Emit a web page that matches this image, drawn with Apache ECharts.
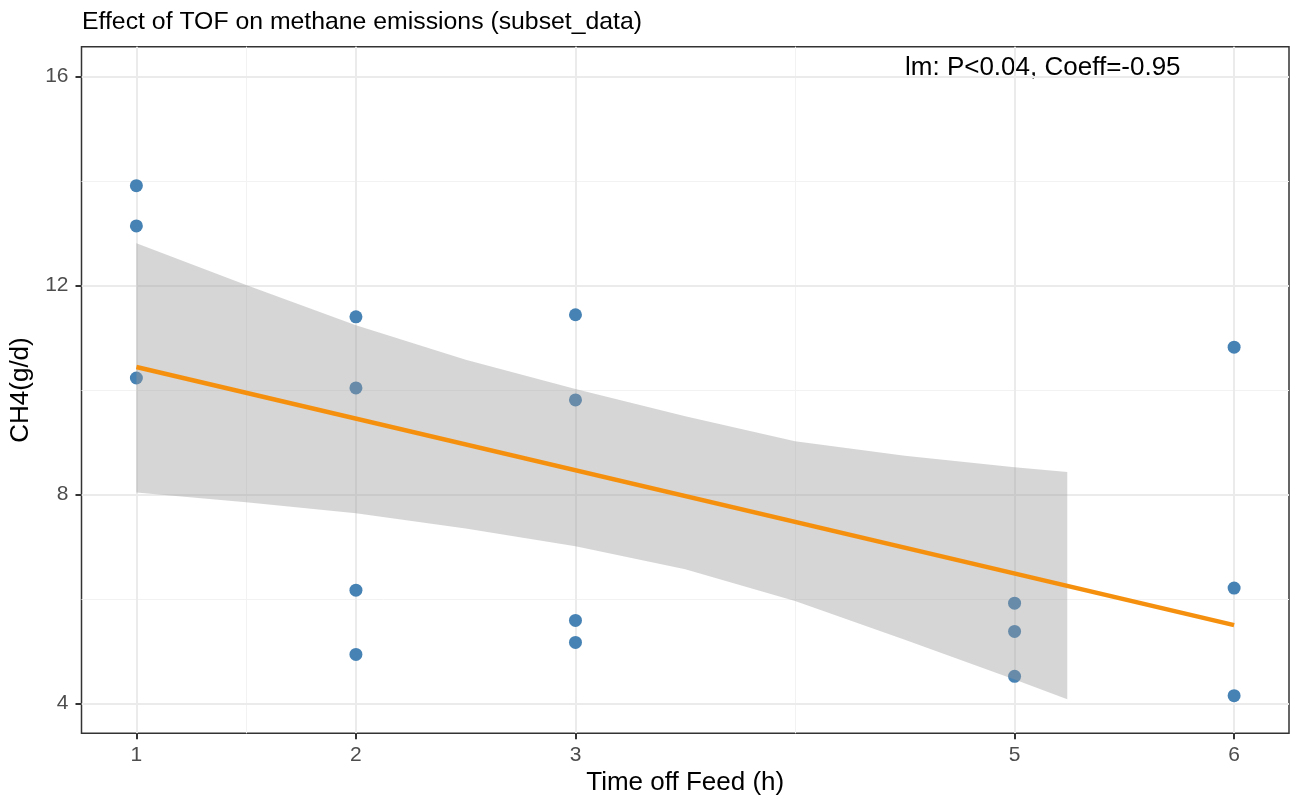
<!DOCTYPE html>
<html>
<head>
<meta charset="utf-8">
<title>Effect of TOF on methane emissions</title>
<script src="https://cdn.jsdelivr.net/npm/echarts@6/dist/echarts.min.js"></script>
<style>
  html, body { margin: 0; padding: 0; background: #fff; }
  #chart { width: 1299px; height: 803px; }
</style>
</head>
<body>
<div id="chart"></div>
<script>
// points (Time off Feed, CH4)
var tof = [1, 1, 1, 2, 2, 2, 2, 3, 3, 3, 3, 5, 5, 5, 6, 6, 6]
var ch4 = [13.91, 13.14, 10.23, 11.40, 10.04, 6.17, 4.94, 11.44, 9.81, 5.59, 5.17, 5.92, 5.38, 4.52, 10.82, 6.21, 4.15]

// fitted line ends
var fitX = [1, 6]
var fitY = [10.44, 5.50]

// grey band
var bandX = [1, 1.5, 2, 2.5, 3, 3.5, 4, 4.5, 5, 5.24]
var bandUpper = [12.81, 12.01, 11.24, 10.58, 10.02, 9.50, 9.02, 8.74, 8.52, 8.43]
var bandLower = [8.04, 7.85, 7.64, 7.35, 7.01, 6.57, 5.96, 5.22, 4.46, 4.08]

// ticks and grid
var xTicks = [1, 2, 3, 5, 6]
var xMinor = [1.5, 4]
var yTicks = [4, 8, 12, 16]
var yMinor = [6, 10, 14]

var titleText = 'Effect of TOF on methane emissions (subset_data)'
var noteText = 'lm: P<0.04, Coeff=-0.95'

var font = 'Liberation Sans, Arial, Helvetica, sans-serif'

var points = tof.map(function (x, i) { return [x, ch4[i]] })
var fitData = fitX.map(function (x, i) { return [x, fitY[i]] })
var bandData = bandX.map(function (x, i) { return [x, bandLower[i], bandUpper[i]] })

function gridLines(vals, key, width, color) {
  return vals.map(function (v) {
    var o = { lineStyle: { width: width, color: color, type: 'solid' } }
    o[key] = v
    return o
  })
}

var chart = echarts.init(document.getElementById('chart'))

var option = {
  backgroundColor: '#fff',
  animation: false,
  title: {
    text: titleText,
    left: 82,
    top: 10,
    padding: 0,
    textStyle: { fontFamily: font, fontSize: 24.8, fontWeight: 'normal', color: '#000' }
  },
  grid: {
    left: 81.5,
    right: 10,
    top: 46.7,
    bottom: 69.7,
    show: true,
    borderColor: '#333',
    borderWidth: 1.5,
    backgroundColor: 'transparent'
  },
  xAxis: {
    type: 'value',
    min: 0.75,
    max: 6.25,
    name: 'Time off Feed (h)',
    nameLocation: 'middle',
    nameGap: 36,
    nameTextStyle: { fontFamily: font, fontSize: 26, color: '#000' },
    axisLine: { show: false },
    splitLine: { show: false },
    axisTick: { show: true, length: 6, customValues: xTicks, lineStyle: { color: '#333', width: 2 } },
    axisLabel: { customValues: xTicks, margin: 11, fontFamily: font, fontSize: 21, color: '#4d4d4d' }
  },
  yAxis: {
    type: 'value',
    min: 3.43,
    max: 16.57,
    name: 'CH4(g/d)',
    nameLocation: 'middle',
    nameGap: 40,
    nameTextStyle: { fontFamily: font, fontSize: 26, color: '#000' },
    axisLine: { show: false },
    splitLine: { show: false },
    axisTick: { show: true, length: 6, customValues: yTicks, lineStyle: { color: '#333', width: 2 } },
    axisLabel: { customValues: yTicks, margin: 13, fontFamily: font, fontSize: 21, color: '#4d4d4d' }
  },
  graphic: [{
    type: 'text',
    left: 905,
    top: 55,
    style: { text: noteText, font: '26px ' + font, fill: '#000' }
  }],
  series: [
    {
      // grid lines, kept under everything
      type: 'line',
      data: [],
      z: 0,
      silent: true,
      markLine: {
        silent: true,
        z: 0,
        symbol: 'none',
        label: { show: false },
        animation: false,
        data: []
          .concat(gridLines(xMinor, 'xAxis', 1, '#f2f2f2'))
          .concat(gridLines(yMinor, 'yAxis', 1, '#f2f2f2'))
          .concat(gridLines(xTicks, 'xAxis', 2, '#ebebeb'))
          .concat(gridLines(yTicks, 'yAxis', 2, '#ebebeb'))
      }
    },
    {
      type: 'scatter',
      data: points,
      symbolSize: 13,
      itemStyle: { color: '#4682b4', opacity: 1 },
      z: 6
    },
    {
      // confidence band drawn over the points
      type: 'custom',
      data: bandData,
      z: 8,
      silent: true,
      renderItem: function (params, api) {
        if (params.dataIndex !== 0) return
        var up = [], low = []
        bandData.forEach(function (d) {
          up.push(api.coord([d[0], d[2]]))
          low.push(api.coord([d[0], d[1]]))
        })
        return {
          type: 'polygon',
          shape: { points: up.concat(low.reverse()) },
          style: { fill: 'rgba(153,153,153,0.4)' }
        }
      }
    },
    {
      type: 'line',
      data: fitData,
      symbol: 'none',
      lineStyle: { color: '#f5900f', width: 4.5 },
      z: 10
    }
  ]
}

chart.setOption(option)
</script>
</body>
</html>
